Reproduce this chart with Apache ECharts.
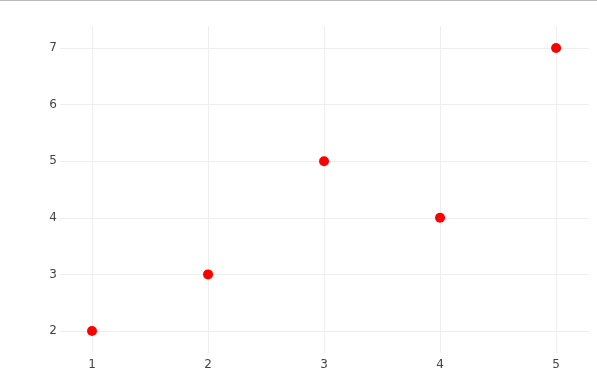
<!DOCTYPE html>
<html><head><meta charset="utf-8">
<script src="https://cdn.jsdelivr.net/npm/echarts@6/dist/echarts.min.js"></script>
<style>html,body{margin:0;padding:0;background:#fff}#c{width:597px;height:391px;border-top:1px solid #bbb;box-sizing:border-box}</style>
</head><body><div id="c"></div>
<script>
const xValues = [1, 2, 3, 4, 5];
const yValues = [2, 3, 5, 4, 7];
const xTicks = [1, 2, 3, 4, 5];
const yTicks = [2, 3, 4, 5, 6, 7];

const chart = echarts.init(document.getElementById('c'));
const labelStyle = { color: '#444', fontSize: 12, fontFamily: 'DejaVu Sans, Verdana, sans-serif' };
chart.setOption({
  animation: false,
  grid: { left: 60, right: 8, top: 25, bottom: 38 },
  xAxis: {
    type: 'value', min: 0.724, max: 5.284,
    axisLine: { show: false },
    axisTick: { show: false, customValues: xTicks },
    axisLabel: Object.assign({ customValues: xTicks, margin: 6 }, labelStyle),
    splitLine: { show: true, lineStyle: { color: '#eee', width: 1 } }
  },
  yAxis: {
    type: 'value', min: 1.611, max: 7.389,
    axisLine: { show: false },
    axisTick: { show: false, customValues: yTicks },
    axisLabel: Object.assign({ customValues: yTicks, margin: 3 }, labelStyle),
    splitLine: { show: true, lineStyle: { color: '#eee', width: 1 } }
  },
  series: [{
    type: 'scatter',
    symbolSize: 10,
    itemStyle: { color: '#ff0000', opacity: 1 },
    data: xValues.map((x, i) => [x, yValues[i]])
  }]
});
</script></body></html>
